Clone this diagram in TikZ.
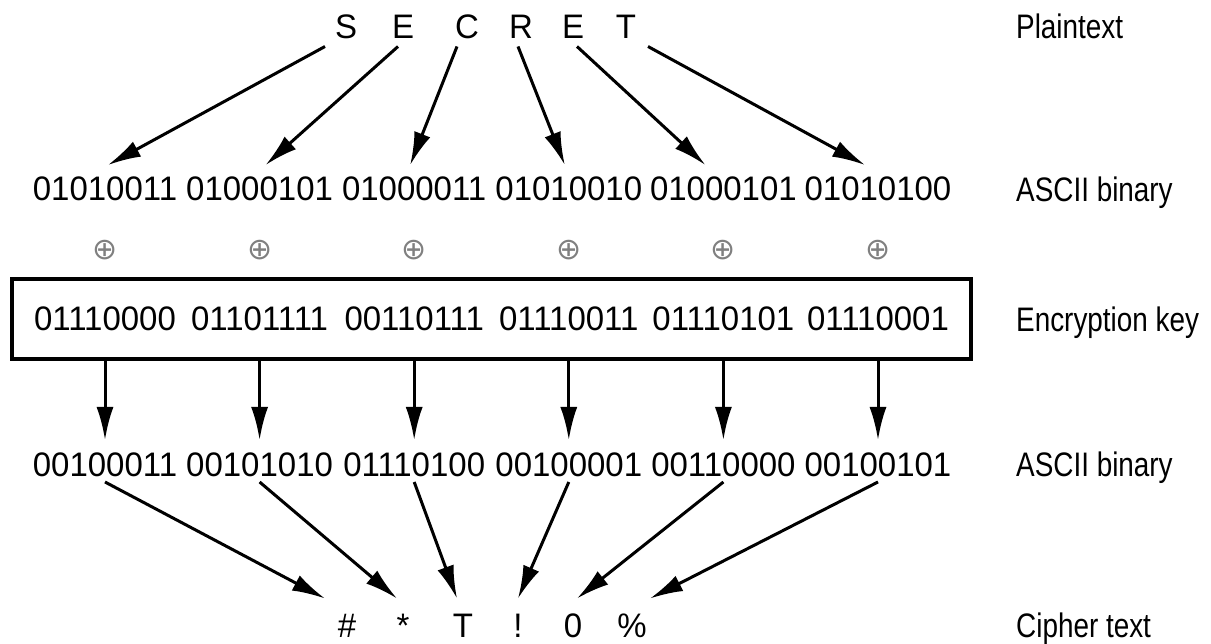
\documentclass[tikz,border=0pt]{standalone}
\usepackage{fontspec}
\setmainfont{Liberation Sans}[FakeStretch=0.97]
\newfontfamily\tagfont{Liberation Sans}[FakeStretch=0.82]
\newfontfamily\symfont{DejaVu Sans}
\usetikzlibrary{arrows.meta,positioning,fit}

\begin{document}
\begin{tikzpicture}[
    x=1pt, y=-1pt,
    font=\fontsize{34}{40}\selectfont,
    glyph/.style={inner sep=0pt, text height=25pt, text depth=0pt},
    bits/.style={inner sep=0pt, text height=24pt, text depth=0pt, outer ysep=12pt},
    xorsign/.style={font=\symfont\fontsize{30}{30}\selectfont, text=gray, inner sep=0pt},
    rowtag/.style={anchor=west, inner sep=0pt, text height=25pt, text depth=0pt,
      font=\tagfont\fontsize{34}{40}\selectfont},
    keybox/.style={draw, line width=3.5pt, inner xsep=22pt, inner ysep=28pt},
    arr/.style={-{Latex[length=33pt,width=17pt]}, line width=3pt}
  ]
    \useasboundingbox (0,0) rectangle (1211,644);
    \foreach \c [count=\n] /\x in {S/346,E/403,C/467,R/521,E/573,T/626}
      \node[glyph, outer ysep=8pt] (pl\n) at (\x,26) {\c};
    \foreach \b [count=\n] in {01010011,01000101,01000011,01010010,01000101,01010100}
      \node[bits] (a\n) at ({105+154.6*(\n-1)},189) {\b};
    \foreach \n in {1,...,6}
      \node[xorsign] (x\n) at ({105+154.6*(\n-1)},250) {⊕};
    \foreach \b [count=\n] in {01110000,01101111,00110111,01110011,01110101,01110001}
      \node[bits, outer ysep=0pt] (k\n) at ({105+154.6*(\n-1)},319) {\b};
    \node[keybox, fit=(k1)(k6)] (key) {};
    \foreach \b [count=\n] in {00100011,00101010,01110100,00100001,00110000,00100101}
      \node[bits] (b\n) at ({105+154.6*(\n-1)},464) {\b};
    \foreach \c [count=\n] /\x in {\#/347,*/403,T/463,!/518,0/573,\%/632}
      \node[glyph, outer ysep=14pt] (c\n) at (\x,625) {\c};

    \foreach \n/\sx/\tx in {1/-21/3,2/-5/6,3/-10/-4,4/-3/-4,5/4/-18,6/22/-13}
      \draw[arr] ([xshift=\sx pt]pl\n.south) -- ([xshift=\tx pt]a\n.north);
    \foreach \n in {1,...,6}
      \draw[arr] (key.south -| b\n.north) -- (b\n.north);
    \foreach \n/\tx in {1/-22,2/-6,3/-6,4/0,5/4,6/18}
      \draw[arr] ([yshift=6pt]b\n.south) -- ([xshift=\tx pt]c\n.north);

    \node[rowtag] (tagplain) at (1016,26) {Plaintext};
    \node[rowtag] (tagascii) at (1016,189) {ASCII binary};
    \node[rowtag] (tagkey) at (1016,319) {Encryption key};
    \node[rowtag] (tagout) at (1016,464) {ASCII binary};
    \node[rowtag] (tagcipher) at (1016,625) {Cipher text};
  \end{tikzpicture}
\end{document}
